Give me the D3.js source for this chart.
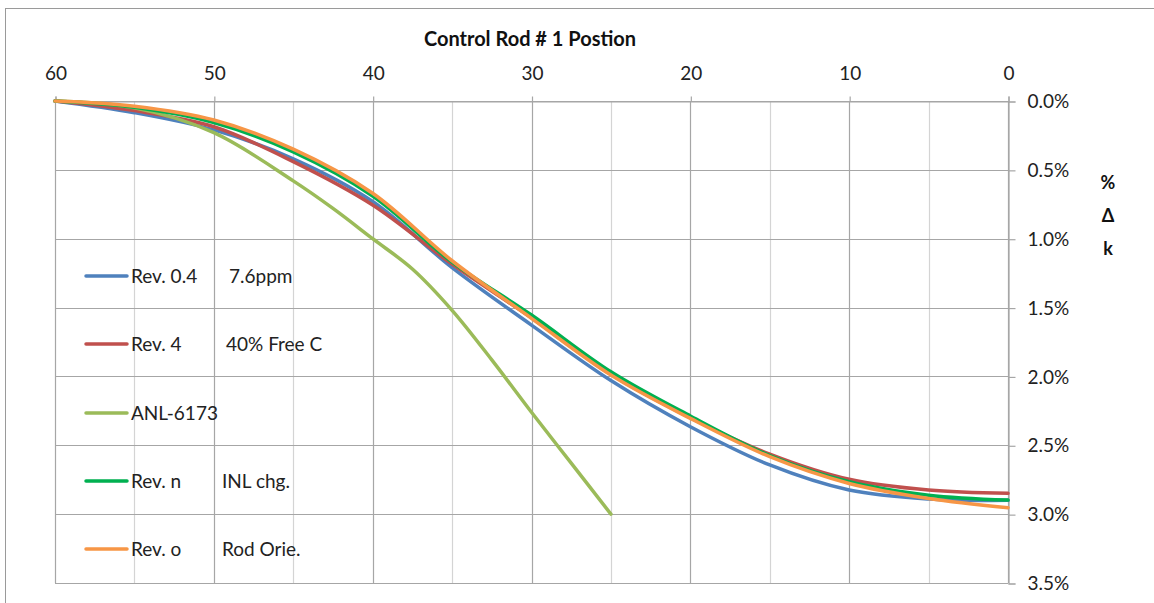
<!DOCTYPE html>
<html>
<head>
<meta charset="utf-8">
<script src="https://cdn.jsdelivr.net/npm/d3@7"></script>
<style>
  body { margin: 0; background: #fff; }
  svg { display: block; font-family: Lato, "Open Sans", sans-serif; }
</style>
</head>
<body>
<svg id="chart" width="1154" height="603"></svg>
<script>
// ---- data ----
const positions = [60, 55, 50, 45, 40, 35, 30, 25, 20, 15, 10, 5, 0];
const rev04   = [0, 0.085, 0.21, 0.42, 0.73, 1.21, 1.627, 2.03, 2.365, 2.643, 2.825, 2.89, 2.9];
const rev4    = [0, 0.07, 0.187, 0.44, 0.755, 1.185, 1.575, 1.985, 2.30, 2.564, 2.747, 2.825, 2.849];
const anlPos  = [60, 55, 50, 45, 42.5, 40, 37.5, 35, 32.5, 30, 27.5, 25];
const anl6173 = [0, 0.05, 0.23, 0.58, 0.78, 1.0, 1.22, 1.52, 1.88, 2.26, 2.63, 3.0];
const revN    = [0, 0.046, 0.157, 0.37, 0.69, 1.17, 1.554, 1.966, 2.287, 2.575, 2.765, 2.862, 2.898];
const revO    = [0, 0.038, 0.138, 0.35, 0.67, 1.16, 1.578, 1.99, 2.305, 2.583, 2.777, 2.886, 2.953];
const seriesNames = ["Rev. 0.4", "Rev. 4", "ANL-6173", "Rev. n", "Rev. o"];
const seriesNotes = ["7.6ppm", "40% Free C", "", "INL chg.", "Rod Orie."];
const seriesColors = ["#4F81BD", "#C0504D", "#9BBB59", "#00B050", "#F79646"];
const xTicks = [60, 50, 40, 30, 20, 10, 0];
const yTicks = [0, 0.5, 1.0, 1.5, 2.0, 2.5, 3.0, 3.5];
const titleText = "Control Rod # 1 Postion";
const yLabel = ["%", "Δ", "k"];

const series = [
  {x: positions, y: rev04},
  {x: positions, y: rev4},
  {x: anlPos, y: anl6173},
  {x: positions, y: revN},
  {x: positions, y: revO}
];

// ---- layout ----
const svg = d3.select("#chart");
const L = 55, R = 1008, T = 101, B = 583;
const x = d3.scaleLinear().domain([60, 0]).range([L, R]);
const y = d3.scaleLinear().domain([0, 3.5]).range([T, B]);

// chart border
svg.append("rect").attr("x", 5.5).attr("y", 8.5).attr("width", 1160).attr("height", 620)
  .attr("fill", "none").attr("stroke", "#9a9a9a").attr("stroke-width", 1);

// minor vertical grid
const g = svg.append("g");
d3.range(55, 0, -10).forEach(v => {
  g.append("line").attr("x1", Math.round(x(v)) + 0.5).attr("x2", Math.round(x(v)) + 0.5)
    .attr("y1", T).attr("y2", B).attr("stroke", "#d4d4d4").attr("stroke-width", 1.2);
});
// major vertical grid
xTicks.forEach(v => {
  g.append("line").attr("x1", Math.round(x(v)) + 0.5).attr("x2", Math.round(x(v)) + 0.5)
    .attr("y1", T).attr("y2", B).attr("stroke", "#a6a6a6").attr("stroke-width", 1.2);
});
// horizontal grid
yTicks.forEach(v => {
  g.append("line").attr("x1", L).attr("x2", R)
    .attr("y1", Math.round(y(v)) + 0.5).attr("y2", Math.round(y(v)) + 0.5)
    .attr("stroke", "#a6a6a6").attr("stroke-width", 1.2);
});

// top axis
const xAxis = d3.axisTop(x).tickValues(xTicks).tickSize(5).tickPadding(17).tickFormat(d3.format("d"));
const gx = svg.append("g").attr("transform", `translate(0.5,${T + 0.5})`).call(xAxis);
gx.select(".domain").attr("stroke", "#a6a6a6").attr("stroke-width", 1.2);
gx.selectAll(".tick line").attr("stroke", "#a6a6a6").attr("stroke-width", 1.2);
gx.selectAll(".tick text").attr("font-size", 19).attr("fill", "#222").attr("font-family", "Lato, sans-serif");

// right axis
const yAxis = d3.axisRight(y).tickValues(yTicks).tickSize(7).tickPadding(12)
  .tickFormat(d => d3.format(".1f")(d) + "%");
const gy = svg.append("g").attr("transform", `translate(${R + 0.5},0.5)`).call(yAxis);
gy.select(".domain").attr("stroke", "#a6a6a6").attr("stroke-width", 1.2);
gy.selectAll(".tick line").attr("stroke", "#a6a6a6").attr("stroke-width", 1.2);
gy.selectAll(".tick text").attr("font-size", 19).attr("fill", "#222").attr("font-family", "Lato, sans-serif");

// lines
const line = d3.line().curve(d3.curveCatmullRom.alpha(0.5));
series.forEach((s, i) => {
  const pts = s.x.map((v, j) => [x(v), y(s.y[j])]);
  svg.append("path").attr("d", line(pts)).attr("fill", "none")
    .attr("stroke", seriesColors[i]).attr("stroke-width", 3.5)
    .attr("stroke-linecap", "round").attr("stroke-linejoin", "round");
});

// legend
const legendY = [276, 344, 413, 481, 549];
const noteX = [229, 226, 0, 222, 222];
seriesNames.forEach((name, i) => {
  svg.append("line").attr("x1", 86).attr("x2", 127).attr("y1", legendY[i]).attr("y2", legendY[i])
    .attr("stroke", seriesColors[i]).attr("stroke-width", 3.5).attr("stroke-linecap", "round");
  svg.append("text").attr("x", 131).attr("y", legendY[i]).attr("dy", "0.35em")
    .attr("font-size", 19).attr("fill", "#222").text(name);
  if (seriesNotes[i]) {
    svg.append("text").attr("x", noteX[i]).attr("y", legendY[i]).attr("dy", "0.35em")
      .attr("font-size", 19).attr("fill", "#222").text(seriesNotes[i]);
  }
});

// title
svg.append("text").attr("x", 530).attr("y", 39).attr("dy", "0.35em").attr("text-anchor", "middle")
  .attr("font-size", 20).attr("font-weight", "bold").attr("fill", "#111").text(titleText);

// y label stacked
const ylY = [183, 216, 249];
yLabel.forEach((t, i) => {
  svg.append("text").attr("x", 1108).attr("y", ylY[i]).attr("dy", "0.35em").attr("text-anchor", "middle")
    .attr("font-size", 18).attr("font-weight", "bold").attr("fill", "#111").text(t);
});
</script>
</body>
</html>
